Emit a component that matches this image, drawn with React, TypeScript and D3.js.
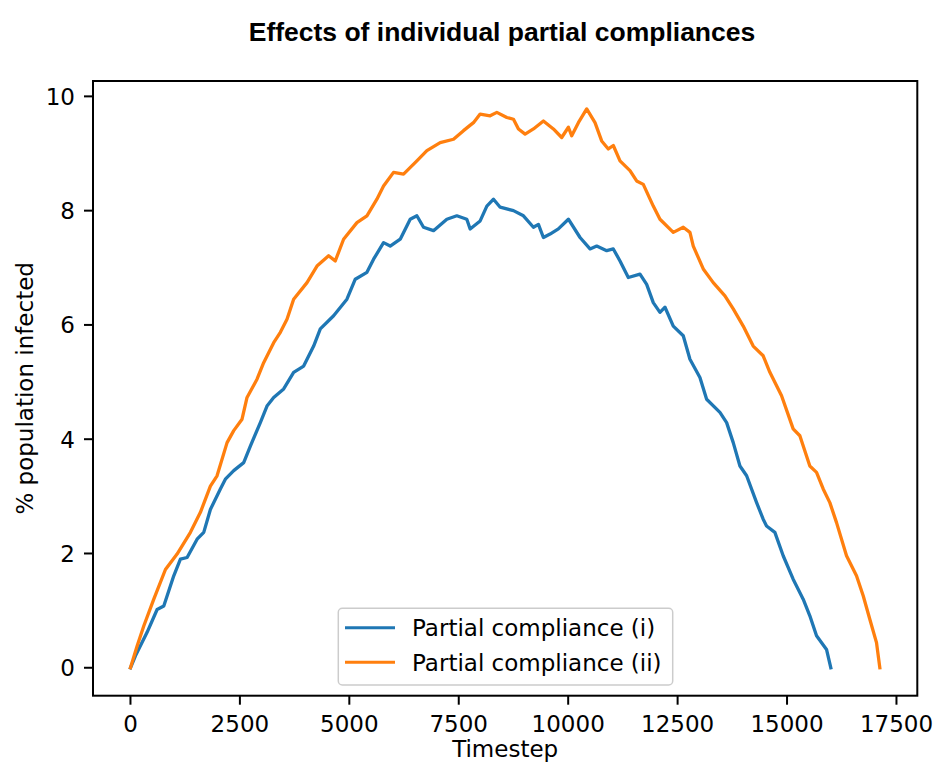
import React from "react";
import * as d3 from "d3";

// values: [timestep, % infected]
const complianceI: [number, number][] = [
  [0, 0], [114, 0.21], [380, 0.62], [609, 1.02], [761, 1.08], [989, 1.61],
  [1141, 1.9], [1294, 1.93], [1522, 2.25], [1674, 2.37], [1826, 2.77],
  [2054, 3.13], [2168, 3.3], [2359, 3.45], [2587, 3.59], [2739, 3.88],
  [2967, 4.29], [3119, 4.58], [3272, 4.73], [3500, 4.88], [3728, 5.17],
  [3957, 5.28], [4185, 5.63], [4337, 5.93], [4641, 6.16], [4945, 6.45],
  [5136, 6.8], [5402, 6.92], [5554, 7.15], [5782, 7.44], [5934, 7.38],
  [6163, 7.5], [6391, 7.85], [6543, 7.91], [6695, 7.71], [6923, 7.65],
  [7228, 7.85], [7456, 7.91], [7684, 7.85], [7760, 7.68], [7989, 7.82],
  [8142, 8.08], [8294, 8.2], [8446, 8.06], [8750, 8.0], [8978, 7.91],
  [9206, 7.71], [9320, 7.76], [9434, 7.53], [9586, 7.59], [9776, 7.68],
  [10005, 7.85], [10271, 7.53], [10499, 7.33], [10652, 7.38], [10880, 7.3],
  [11031, 7.33], [11184, 7.12], [11374, 6.83], [11641, 6.89], [11793, 6.71],
  [11944, 6.39], [12097, 6.22], [12212, 6.31], [12401, 5.98], [12629, 5.81],
  [12782, 5.4], [13010, 5.08], [13163, 4.7], [13467, 4.47], [13620, 4.29],
  [13771, 3.94], [13924, 3.53], [14077, 3.36], [14305, 2.89], [14455, 2.6],
  [14532, 2.48], [14722, 2.37], [14912, 1.96], [15140, 1.55], [15369, 1.2],
  [15521, 0.91], [15674, 0.56], [15902, 0.32], [16000, 0],
];

const complianceII: [number, number][] = [
  [0, 0], [152, 0.38], [304, 0.73], [533, 1.2], [799, 1.72], [1065, 1.99],
  [1370, 2.37], [1598, 2.72], [1826, 3.18], [1978, 3.36], [2207, 3.94],
  [2359, 4.15], [2549, 4.35], [2663, 4.73], [2891, 5.05], [3043, 5.34],
  [3272, 5.69], [3424, 5.87], [3576, 6.1], [3728, 6.45], [4033, 6.74],
  [4261, 7.03], [4527, 7.21], [4679, 7.12], [4869, 7.5], [5174, 7.79],
  [5402, 7.91], [5630, 8.2], [5782, 8.43], [6010, 8.67], [6239, 8.64],
  [6543, 8.87], [6772, 9.05], [7076, 9.19], [7380, 9.25], [7608, 9.4],
  [7836, 9.54], [7989, 9.69], [8217, 9.66], [8370, 9.72], [8598, 9.63],
  [8750, 9.6], [8864, 9.43], [9016, 9.34], [9206, 9.43], [9434, 9.57],
  [9662, 9.43], [9852, 9.28], [10005, 9.46], [10081, 9.31], [10233, 9.54],
  [10423, 9.78], [10613, 9.54], [10765, 9.22], [10917, 9.08], [11031, 9.14],
  [11184, 8.87], [11412, 8.7], [11564, 8.52], [11716, 8.46], [11944, 8.08],
  [12097, 7.85], [12401, 7.62], [12629, 7.71], [12782, 7.62], [12858, 7.38],
  [13086, 6.98], [13314, 6.74], [13581, 6.51], [13771, 6.28], [13999, 5.98],
  [14227, 5.63], [14455, 5.46], [14608, 5.17], [14875, 4.76], [15140, 4.18],
  [15293, 4.06], [15521, 3.53], [15674, 3.42], [15826, 3.13], [15978, 2.89],
  [16131, 2.54], [16359, 1.96], [16587, 1.61], [16740, 1.26], [16891, 0.85],
  [17044, 0.44], [17120, 0],
];

const seriesNames = ["Partial compliance (i)", "Partial compliance (ii)"];
const seriesColors = ["#1f77b4", "#ff7f0e"];
const xTicks = [0, 2500, 5000, 7500, 10000, 12500, 15000, 17500];
const yTicks = [0, 2, 4, 6, 8, 10];

const W = 934;
const H = 763;
const plot = { left: 93, right: 917.3, top: 81, bottom: 695.7 };
const tickFont = "DejaVu Sans, sans-serif";
const fs = 23;

export default function App() {
  const all = complianceI.concat(complianceII);
  const xMax = d3.max(all, (d) => d[0]) as number;
  const yMax = d3.max(all, (d) => d[1]) as number;
  // matplotlib style 5% margins
  const x = d3.scaleLinear()
    .domain([-xMax * 0.05, xMax * 1.05])
    .range([plot.left, plot.right]);
  const y = d3.scaleLinear()
    .domain([-yMax * 0.05, yMax * 1.05])
    .range([plot.bottom, plot.top]);

  const line = d3.line<[number, number]>()
    .x((d) => x(d[0]))
    .y((d) => y(d[1]));

  const data = [complianceI, complianceII];
  const midX = (plot.left + plot.right) / 2;
  const midY = (plot.top + plot.bottom) / 2;

  return (
    <svg width={W} height={H} style={{ position: "absolute", left: 0, top: 0, background: "#fff" }}>
      <text x={502} y={41} textAnchor="middle" fontFamily="Liberation Sans, Arial, sans-serif"
        fontWeight="bold" fontSize={26.5} fill="#000">
        Effects of individual partial compliances
      </text>

      <g>
        {data.map((s, i) => (
          <path key={i} d={line(s) || ""} fill="none" stroke={seriesColors[i]}
            strokeWidth={3.3} strokeLinejoin="round" strokeLinecap="square" />
        ))}
      </g>

      <rect x={plot.left} y={plot.top} width={plot.right - plot.left} height={plot.bottom - plot.top}
        fill="none" stroke="#000" strokeWidth={2} />

      {xTicks.map((t) => (
        <g key={t}>
          <line x1={x(t)} x2={x(t)} y1={plot.bottom} y2={plot.bottom + 9} stroke="#000" strokeWidth={2} />
          <text x={x(t)} y={731.5} textAnchor="middle" fontFamily={tickFont} fontSize={fs} fill="#000">
            {t}
          </text>
        </g>
      ))}
      {yTicks.map((t) => (
        <g key={t}>
          <line x1={plot.left - 9} x2={plot.left} y1={y(t)} y2={y(t)} stroke="#000" strokeWidth={2} />
          <text x={75} y={y(t) + 8.3} textAnchor="end" fontFamily={tickFont} fontSize={fs} fill="#000">
            {t}
          </text>
        </g>
      ))}

      <text x={midX} y={756.5} textAnchor="middle" fontFamily={tickFont} fontSize={fs} fill="#000">
        Timestep
      </text>
      <text transform={`translate(33,${midY}) rotate(-90)`} textAnchor="middle" fontFamily={tickFont}
        fontSize={fs} fill="#000">
        % population infected
      </text>

      <g>
        <rect x={338.3} y={608.3} width={334.4} height={76.7} rx={4} fill="#fff" fillOpacity={0.8}
          stroke="#cccccc" strokeWidth={1.5} />
        {seriesNames.map((n, i) => (
          <g key={n}>
            <line x1={345} x2={395} y1={627.7 + i * 34.6} y2={627.7 + i * 34.6}
              stroke={seriesColors[i]} strokeWidth={3} />
            <text x={412} y={636 + i * 34.6} fontFamily={tickFont} fontSize={fs} fill="#000">
              {n}
            </text>
          </g>
        ))}
      </g>
    </svg>
  );
}
